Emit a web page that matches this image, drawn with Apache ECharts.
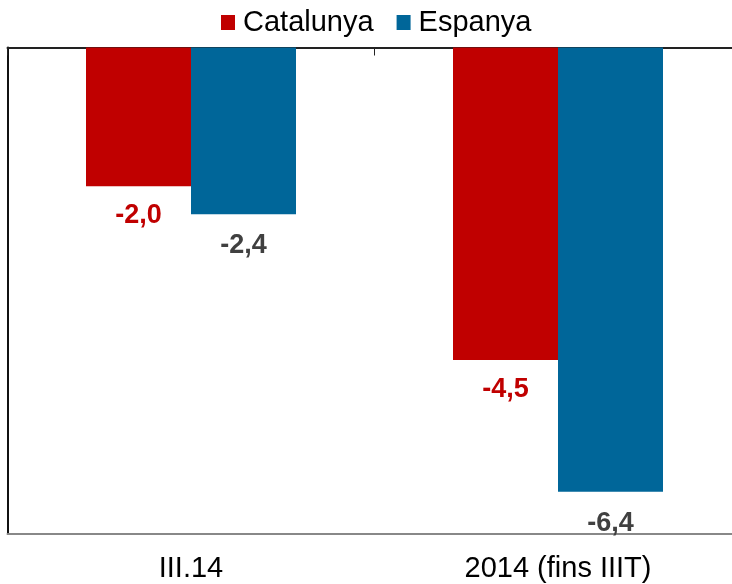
<!DOCTYPE html>
<html>
<head>
<meta charset="utf-8">
<script src="https://cdn.jsdelivr.net/npm/echarts@6/dist/echarts.min.js"></script>
<style>
    html, body { margin: 0; padding: 0; background: #fff; }
    .echarts { width: 732px; height: 584px; }
</style>
</head>
<body>
<div class="echarts"></div>
<script>
const categories = ['III.14', '2014 (fins IIIT)'];
const catalunya = [-2.0, -4.5];
const espanya = [-2.4, -6.4];
const seriesNames = ['Catalunya', 'Espanya'];

window.addEventListener('load', function () {
    let myChart = echarts.init(document.querySelector('.echarts'));
    const font = 'Liberation Sans, Arial, sans-serif';
    const fmt = function (p) {
        return p.value.toFixed(1).replace('.', ',');
    };

    let myChartOption = {
        animation: false,
        textStyle: { fontFamily: font },
        legend: {
            data: seriesNames,
            top: 3,
            left: 216,
            icon: 'rect',
            itemWidth: 14,
            itemHeight: 15,
            itemGap: 23,
            textStyle: {
                color: '#000',
                fontSize: 29,
                fontFamily: font,
                padding: [0, 0, 0, 3]
            }
        },
        grid: {
            left: 7.5,
            top: 47.5,
            width: 734,
            bottom: 50.5,
            outerBoundsMode: 'none'
        },
        xAxis: [{
            type: 'category',
            data: categories,
            position: 'bottom',
            axisLine: { onZero: false, lineStyle: { color: '#888', width: 2 } },
            axisTick: { show: false },
            axisLabel: {
                color: '#000',
                fontSize: 29,
                fontFamily: font,
                margin: 21
            }
        }, {
            type: 'category',
            data: categories,
            position: 'top',
            axisLine: { onZero: false, lineStyle: { color: '#222', width: 2 } },
            axisTick: { show: true, inside: true, length: 8, lineStyle: { color: '#222' } },
            axisLabel: { show: false }
        }],
        yAxis: {
            type: 'value',
            min: -7,
            max: 0,
            axisLine: { show: true, lineStyle: { color: '#111', width: 2 } },
            axisTick: { show: false },
            axisLabel: { show: false },
            splitLine: { show: false }
        },
        series: [{
            name: 'Catalunya',
            type: 'bar',
            data: catalunya,
            barWidth: 105,
            barGap: '0%',
            itemStyle: { color: '#C00000' },
            label: {
                show: true,
                position: 'bottom',
                distance: 16,
                formatter: fmt,
                color: '#C00000',
                fontSize: 27,
                fontWeight: 'bold',
                fontFamily: font
            }
        }, {
            name: 'Espanya',
            type: 'bar',
            data: espanya,
            barWidth: 105,
            barGap: '0%',
            itemStyle: { color: '#006699' },
            label: {
                show: true,
                position: 'bottom',
                distance: 18,
                formatter: fmt,
                color: '#404040',
                fontSize: 27,
                fontWeight: 'bold',
                fontFamily: font
            }
        }]
    };
    myChart.setOption(myChartOption);
});
</script>
</body>
</html>
